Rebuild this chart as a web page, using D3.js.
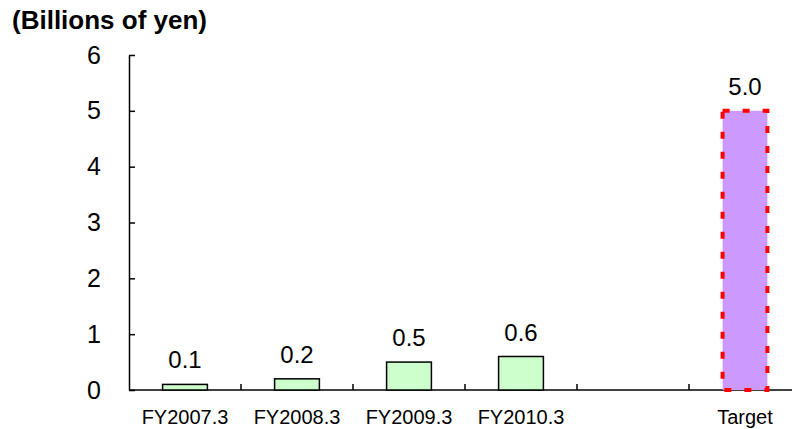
<!DOCTYPE html>
<html>
<head>
<meta charset="utf-8">
<script src="https://cdn.jsdelivr.net/npm/d3@7"></script>
<style>
    body { margin: 0; background: #fff; }
    svg text { font-family: Arial, "Liberation Sans", sans-serif; fill: #000; }
</style>
</head>
<body>
<div id="chart"></div>
<script>
// chart data
const categories = ["FY2007.3", "FY2008.3", "FY2009.3", "FY2010.3", "", "Target"];
const actualYears = ["FY2007.3", "FY2008.3", "FY2009.3", "FY2010.3"];
const actualValues = [0.1, 0.2, 0.5, 0.6];
const targetLabel = "Target";
const targetValue = 5.0;
const yTicks = [0, 1, 2, 3, 4, 5, 6];

const width = 792, height = 429;
const margin = { top: 55, left: 129, bottom: 39 };

const svg = d3.select("#chart").append("svg")
    .attr("width", width)
    .attr("height", height);

// scales
const x = d3.scaleBand()
    .domain(categories)
    .range([margin.left, margin.left + 112 * categories.length])
    .paddingInner(0.6)
    .paddingOuter(0.3);

const y = d3.scaleLinear()
    .domain([0, 6])
    .range([height - margin.bottom, margin.top]);

// unit label
svg.append("text")
    .attr("x", 12)
    .attr("y", 29)
    .style("font-size", "26px")
    .style("font-weight", "bold")
    .text("(Billions of yen)");

// y axis, ticks point inwards
const yAxis = d3.axisLeft(y)
    .tickValues(yTicks)
    .tickFormat(d3.format("d"))
    .tickSizeInner(-6)
    .tickSizeOuter(0)
    .tickPadding(28);

const yG = svg.append("g")
    .attr("transform", `translate(${margin.left},0)`)
    .call(yAxis);
yG.select(".domain").attr("stroke", "#000").attr("stroke-width", 1.5);
yG.selectAll(".tick line").attr("stroke", "#000").attr("stroke-width", 1.5);
yG.selectAll(".tick text")
    .style("font-size", "25px")
    .style("font-family", "Arial, 'Liberation Sans', sans-serif");

// x axis, labels only; ticks go on band boundaries
const xAxis = d3.axisBottom(x).tickSize(0).tickPadding(20);
const xG = svg.append("g")
    .attr("transform", `translate(0,${y(0)})`)
    .call(xAxis);
xG.select(".domain").remove();
xG.selectAll(".tick text")
    .style("font-size", "20px")
    .style("font-family", "Arial, 'Liberation Sans', sans-serif");

svg.append("line")
    .attr("x1", margin.left).attr("x2", width)
    .attr("y1", y(0)).attr("y2", y(0))
    .attr("stroke", "#000").attr("stroke-width", 1.5);

const boundaries = categories.map((c, i) => x.range()[0] + i * x.step());
svg.selectAll(".xtick").data(boundaries.slice(1))
    .enter().append("line")
    .attr("class", "xtick")
    .attr("x1", d => d).attr("x2", d => d)
    .attr("y1", y(0)).attr("y2", y(0) - 6)
    .attr("stroke", "#000").attr("stroke-width", 1.5);

// actual bars
const actual = actualYears.map((k, i) => ({ key: k, value: actualValues[i] }));

svg.selectAll(".bar").data(actual)
    .enter().append("rect")
    .attr("class", "bar")
    .attr("x", d => x(d.key))
    .attr("width", x.bandwidth())
    .attr("y", d => y(d.value))
    .attr("height", d => y(0) - y(d.value))
    .attr("fill", "#ccffcc")
    .attr("stroke", "#000")
    .attr("stroke-width", 1.5);

// target bar with dashed red outline
svg.append("rect")
    .attr("x", x(targetLabel))
    .attr("width", x.bandwidth())
    .attr("y", y(targetValue))
    .attr("height", y(0) - y(targetValue))
    .attr("fill", "#cc99ff")
    .attr("stroke", "#ff0000")
    .attr("stroke-width", 4)
    .attr("stroke-dasharray", "7,13");

// value labels
const labels = actual.concat([{ key: targetLabel, value: targetValue }]);
svg.selectAll(".val").data(labels)
    .enter().append("text")
    .attr("class", "val")
    .attr("x", d => x(d.key) + x.bandwidth() / 2)
    .attr("y", d => y(d.value) - 16)
    .attr("text-anchor", "middle")
    .style("font-size", "24px")
    .text(d => d3.format(".1f")(d.value));
</script>
</body>
</html>
